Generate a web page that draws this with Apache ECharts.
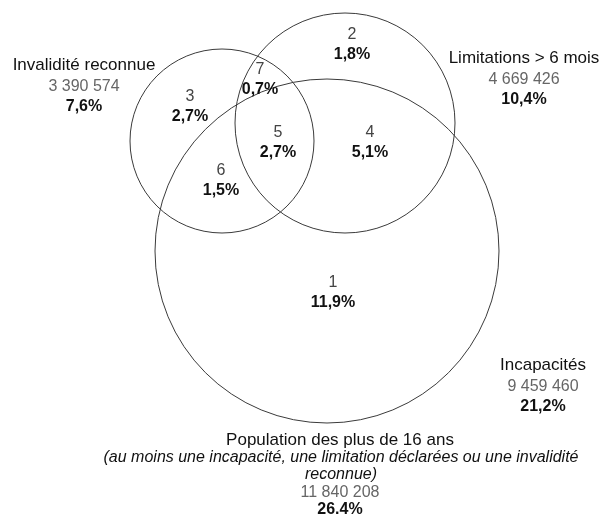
<!DOCTYPE html>
<html>
<head>
<meta charset="utf-8">
<script src="https://cdn.jsdelivr.net/npm/echarts@6/dist/echarts.min.js"></script>
<style>
html,body{margin:0;padding:0;background:#fff;}
#venn{width:603px;height:528px;}
</style>
</head>
<body>
<div id="venn"></div>
<script>
// cercles : centre x, centre y, rayon (unités de l'axe = pixels)
var circleX = [222, 345, 327];
var circleY = [141, 123, 251];
var circleR = [92, 110, 172];

// zones numérotées
var zoneNum = ['1', '2', '3', '4', '5', '6', '7'];
var zonePct = ['11,9%', '1,8%', '2,7%', '5,1%', '2,7%', '1,5%', '0,7%'];
var zoneX = [333, 352, 190, 370, 278, 221, 260];
var zoneY = [283, 35, 97, 133, 133, 171, 70];

// ensembles
var setName = ['Invalidité reconnue', 'Limitations > 6 mois', 'Incapacités'];
var setCount = ['3 390 574', '4 669 426', '9 459 460'];
var setPct = ['7,6%', '10,4%', '21,2%'];
var setX = [84, 524, 543];
var setY = [65, 58, 365];

// total
var totalName = 'Population des plus de 16 ans';
var totalNote = ['(au moins une incapacité, une limitation déclarées ou une invalidité', 'reconnue)'];
var totalCount = '11 840 208';
var totalPct = '26.4%';

function vennChart(){
	var myChart = echarts.init(document.getElementById('venn'));

	var ff = '"Liberation Sans", Arial, sans-serif';
	var fonts = {
	    title: {font: '17px ' + ff, fill: '#111'},
	    count: {font: '16px ' + ff, fill: '#666'},
	    pct:   {font: 'bold 16px ' + ff, fill: '#111'},
	    num:   {font: '16px ' + ff, fill: '#444'},
	    note:  {font: 'italic 16px ' + ff, fill: '#111'}
	};

	// liste des textes
	var texts = [];
	for (var i = 0; i < zoneNum.length; i++) {
	    texts.push([zoneX[i], zoneY[i], zoneNum[i], 'num']);
	    texts.push([zoneX[i], zoneY[i] + 20, zonePct[i], 'pct']);
	}
	for (var j = 0; j < setName.length; j++) {
	    texts.push([setX[j], setY[j], setName[j], 'title']);
	    texts.push([setX[j], setY[j] + 22, setCount[j], 'count']);
	    texts.push([setX[j], setY[j] + 42, setPct[j], 'pct']);
	}
	texts.push([340, 440, totalName, 'title']);
	texts.push([341, 458, totalNote[0], 'note']);
	texts.push([341, 475, totalNote[1], 'note']);
	texts.push([340, 493, totalCount, 'count']);
	texts.push([340, 510, totalPct, 'pct']);

	var circles = [];
	for (var k = 0; k < circleX.length; k++) {
	    circles.push([circleX[k], circleY[k], circleR[k]]);
	}

	var option = {
	    animation: false,
	    grid: {left: 0, right: 0, top: 0, bottom: 0},
	    xAxis: {type: 'value', min: 0, max: 603, show: false},
	    yAxis: {type: 'value', min: 0, max: 528, inverse: true, show: false},
	    series: [{
	        type: 'custom',
	        data: circles,
	        encode: {x: 0, y: 1},
	        renderItem: function(params, api){
	            var c = api.coord([api.value(0), api.value(1)]);
	            var r = api.size([api.value(2), 0])[0];
	            return {
	                type: 'circle',
	                shape: {cx: c[0], cy: c[1], r: r},
	                style: {fill: 'none', stroke: '#3a3a3a', lineWidth: 1}
	            };
	        }
	    }, {
	        type: 'custom',
	        data: texts.map(function(t){ return [t[0], t[1]]; }),
	        encode: {x: 0, y: 1},
	        renderItem: function(params, api){
	            var t = texts[params.dataIndex];
	            var c = api.coord([api.value(0), api.value(1)]);
	            var f = fonts[t[3]];
	            return {
	                type: 'text',
	                style: {
	                    text: t[2], x: c[0], y: c[1],
	                    align: 'center', verticalAlign: 'middle',
	                    font: f.font, fill: f.fill
	                }
	            };
	        }
	    }]
	};

	myChart.setOption(option);
}
vennChart();
</script>
</body>
</html>
